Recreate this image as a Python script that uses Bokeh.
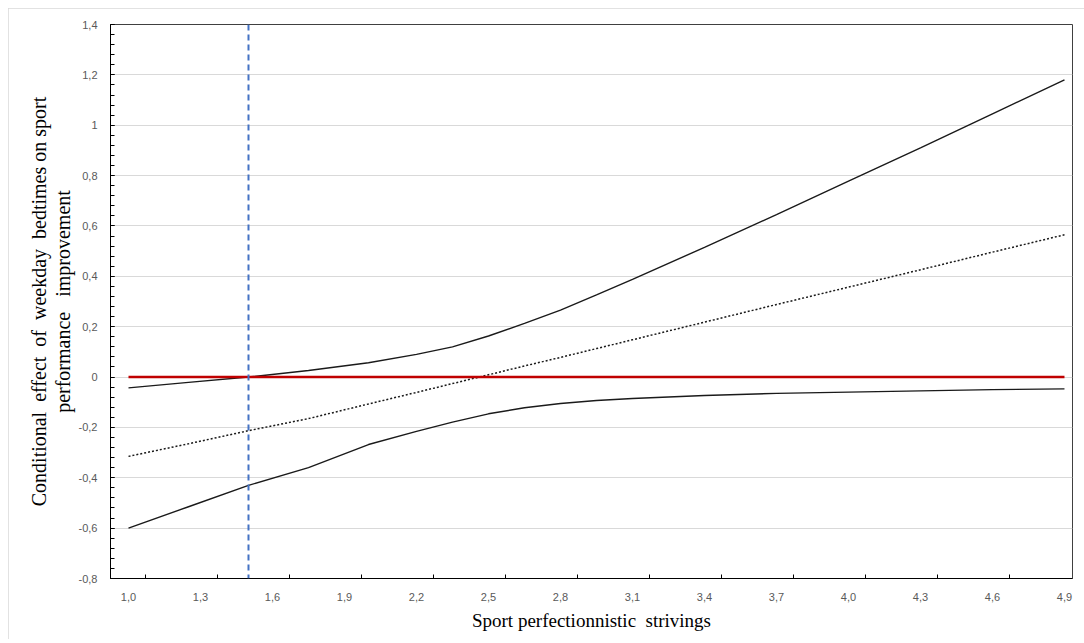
from bokeh.plotting import figure
from bokeh.models import Range1d, FixedTicker, CustomJSTickFormatter, Span
from bokeh.embed import file_html
from bokeh.resources import INLINE

# ---- data ----
x_vals = [1.0, 1.25, 1.5, 1.75, 2.0, 2.2, 2.35, 2.5, 2.65, 2.8, 2.95, 3.1, 3.4, 3.7, 4.0, 4.3, 4.6, 4.9]
effect = [-0.315, -0.265, -0.213, -0.165, -0.107, -0.061, -0.026, 0.009, 0.044, 0.078, 0.113, 0.148, 0.218, 0.288, 0.357, 0.426, 0.496, 0.565]
upper = [-0.043, -0.021, 0.0, 0.026, 0.057, 0.09, 0.12, 0.163, 0.213, 0.266, 0.326, 0.388, 0.515, 0.645, 0.778, 0.91, 1.045, 1.18]
lower = [-0.60, -0.515, -0.43, -0.36, -0.268, -0.216, -0.179, -0.146, -0.122, -0.105, -0.093, -0.085, -0.073, -0.065, -0.06, -0.055, -0.05, -0.047]
zero_x = [1.0, 4.9]
zero_y = [0.0, 0.0]
jn_point = 1.5
y_ticks = [-0.8, -0.6, -0.4, -0.2, 0.0, 0.2, 0.4, 0.6, 0.8, 1.0, 1.2, 1.4]
x_tick_labels = [1.0, 1.3, 1.6, 1.9, 2.2, 2.5, 2.8, 3.1, 3.4, 3.7, 4.0, 4.3, 4.6, 4.9]
x_tick_marks = [1.071, 1.371, 1.671, 1.971, 2.271, 2.571, 2.871, 3.171, 3.471, 3.771, 4.071, 4.371, 4.671]

y_minor = [round(-0.8 + 0.04 * i, 4) for i in range(56)]

p = figure(width=1076, height=631, output_backend="svg", toolbar_location=None,
           x_range=Range1d(0.925, 4.9334), y_range=Range1d(-0.8, 1.4),
           min_border_left=102, min_border_top=16, min_border_right=12, min_border_bottom=61)
p.margin = (8, 0, 0, 8)
p.styles = {"outline": "1px solid #d9d9d9", "outline-offset": "-1px"}
p.background_fill_color = "white"
p.border_fill_color = "white"
p.outline_line_color = "#404040"
p.outline_line_width = 1

# grid
p.xgrid.visible = False
p.ygrid.grid_line_color = "#d9d9d9"
p.ygrid.grid_line_width = 1

# y axis
p.yaxis.ticker = FixedTicker(ticks=y_ticks, minor_ticks=y_minor)
p.yaxis.formatter = CustomJSTickFormatter(code="""
var v = Math.round(tick*10)/10;
return v.toString().replace('.', ',');
""")
p.yaxis.axis_line_color = "black"
p.yaxis.major_tick_in = 4
p.yaxis.major_tick_out = 0
p.yaxis.minor_tick_in = 4
p.yaxis.minor_tick_out = 0
p.yaxis.major_tick_line_color = "black"
p.yaxis.minor_tick_line_color = "black"
p.yaxis.major_label_text_font = "Liberation Sans"
p.yaxis.major_label_text_font_size = "11px"
p.yaxis.major_label_text_color = "#595959"
p.yaxis.major_label_standoff = 13
p.yaxis.axis_label = ("Conditional\u00a0 effect\u00a0 of\u00a0 weekday\u00a0 bedtimes on sport\n"
                      "performance\u00a0\u00a0 improvement")
p.yaxis.axis_label_text_font = "Liberation Serif"
p.yaxis.axis_label_text_font_size = "20px"
p.yaxis.axis_label_text_font_style = "normal"
p.yaxis.axis_label_text_color = "black"
p.yaxis.axis_label_text_line_height = 1.05
p.yaxis.axis_label_standoff = 2

# x axis
p.xaxis.ticker = FixedTicker(ticks=x_tick_labels, minor_ticks=x_tick_marks)
p.xaxis.formatter = CustomJSTickFormatter(code="return tick.toFixed(1).replace('.', ',');")
p.xaxis.axis_line_color = "black"
p.xaxis.major_tick_in = 0
p.xaxis.major_tick_out = 0
p.xaxis.minor_tick_in = 4
p.xaxis.minor_tick_out = 0
p.xaxis.minor_tick_line_color = "black"
p.xaxis.major_label_text_font = "Liberation Sans"
p.xaxis.major_label_text_font_size = "11px"
p.xaxis.major_label_text_color = "#595959"
p.xaxis.major_label_standoff = 14
p.xaxis.axis_label = "Sport perfectionnistic\u00a0 strivings"
p.xaxis.axis_label_text_font = "Liberation Serif"
p.xaxis.axis_label_text_font_size = "19px"
p.xaxis.axis_label_text_font_style = "normal"
p.xaxis.axis_label_text_color = "black"
p.xaxis.axis_label_standoff = 6

# lines
p.line(x_vals, upper, line_color="#1a1a1a", line_width=1.4)
p.line(x_vals, lower, line_color="#1a1a1a", line_width=1.4)
p.line(x_vals, effect, line_color="#1a1a1a", line_width=1.5, line_dash="2 2")
p.line(zero_x, zero_y, line_color="#c00000", line_width=2.5)

jn = Span(location=jn_point, dimension="height", line_color="#4472c4", line_width=2, line_dash="6 4")
p.add_layout(jn)

open("out.html", "w").write(file_html(p, INLINE))
